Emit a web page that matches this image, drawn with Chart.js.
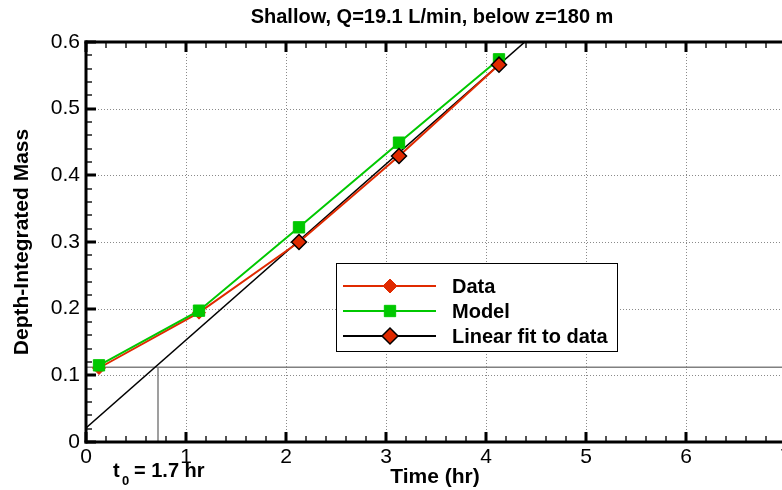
<!DOCTYPE html>
<html>
<head>
<meta charset="utf-8">
<script src="https://cdn.jsdelivr.net/npm/chart.js@4/dist/chart.umd.min.js"></script>
<style>
  html, body { margin: 0; padding: 0; background: #fff; overflow: hidden; }
  #wrap { width: 800px; height: 490px; }
</style>
</head>
<body>
<div id="wrap"><canvas id="massChart" width="800" height="490"></canvas></div>
<script>
// values
const times = [0.13, 1.13, 2.13, 3.13, 4.13];
const dataMass = [0.111, 0.194, 0.300, 0.429, 0.566];
const modelMass = [0.115, 0.197, 0.322, 0.449, 0.574];
const fitTimes = [0, 4.6];
const fitMass = [0.021, 0.628];
const fitPointTimes = [2.13, 3.13, 4.13];
const fitPointMass = [0.300, 0.429, 0.566];
const t0Level = 0.112;
const t0Time = 0.72;
const xTicks = [0, 1, 2, 3, 4, 5, 6, 7];
const yTicks = [0, 0.1, 0.2, 0.3, 0.4, 0.5, 0.6];

const RED = '#e02a00';
const GREEN = '#00c800';
const FONT = "'Liberation Sans', Arial, sans-serif";

const pts = (xs, ys) => xs.map((x, i) => ({ x: x, y: ys[i] }));

function seg(ctx, x1, y1, x2, y2) {
  ctx.beginPath();
  ctx.moveTo(x1, y1);
  ctx.lineTo(x2, y2);
  ctx.stroke();
}

// inward ticks (major + minor) and the frame, as filled rects
function drawFrame(chart) {
  const ctx = chart.ctx;
  const a = chart.chartArea;
  const xs = chart.scales.x, ys = chart.scales.y;
  const L = Math.round(a.left), T = Math.round(a.top), B = Math.round(a.bottom), R = Math.round(a.right) + 4;
  ctx.save();
  ctx.fillStyle = '#555';
  for (let i = 1; i < 35; i++) {
    if (i % 5 === 0) continue;
    const px = Math.round(xs.getPixelForValue(i / 5));
    ctx.fillRect(px - 1, B - 6, 2, 6);
    ctx.fillRect(px - 1, T, 2, 6);
  }
  for (let i = 1; i < 30; i++) {
    if (i % 5 === 0) continue;
    const py = Math.round(ys.getPixelForValue(i / 50));
    ctx.fillRect(L, py - 1, 6, 2);
  }
  ctx.fillStyle = '#000';
  xTicks.forEach(v => {
    const px = Math.round(xs.getPixelForValue(v));
    ctx.fillRect(px - 1.5, B - 10, 3, 10);
    ctx.fillRect(px - 1.5, T, 3, 10);
  });
  yTicks.forEach(v => {
    const py = Math.round(ys.getPixelForValue(v));
    ctx.fillRect(L, py - 1.5, 10, 3);
  });
  ctx.fillRect(L - 1.5, T - 1.5, R - L, 3);
  ctx.fillRect(L - 1.5, B - 1.5, R - L, 3);
  ctx.fillRect(L - 1.5, T - 1.5, 3, B - T + 3);
  ctx.restore();
}

const decor = {
  id: 'decor',
  beforeDatasetsDraw(chart) {
    // dotted grid at major ticks
    const ctx = chart.ctx, a = chart.chartArea;
    const xs = chart.scales.x, ys = chart.scales.y;
    ctx.save();
    ctx.strokeStyle = '#8a8a8a';
    ctx.lineWidth = 1;
    ctx.setLineDash([1, 2]);
    xTicks.forEach(v => {
      if (v <= xs.min || v >= xs.max) return;
      const px = Math.round(xs.getPixelForValue(v)) + 0.5;
      seg(ctx, px, a.top, px, a.bottom);
    });
    yTicks.forEach(v => {
      if (v <= ys.min || v >= ys.max) return;
      const py = Math.round(ys.getPixelForValue(v)) + 0.5;
      seg(ctx, a.left, py, a.right, py);
    });
    ctx.restore();
  },
  afterDraw(chart) {
    const ctx = chart.ctx;
    drawFrame(chart);
    ctx.save();
    ctx.fillStyle = '#000';
    ctx.textBaseline = 'alphabetic';

    // title
    ctx.font = 'bold 20px ' + FONT;
    ctx.textAlign = 'center';
    ctx.fillText('Shallow, Q=19.1 L/min, below z=180 m', 432, 23);

    // x title
    ctx.font = 'bold 21px ' + FONT;
    ctx.fillText('Time (hr)', 435, 483);

    // y title
    ctx.save();
    ctx.translate(28, 242);
    ctx.rotate(-Math.PI / 2);
    ctx.fillText('Depth-Integrated Mass', 0, 0);
    ctx.restore();

    // t0 annotation
    ctx.textAlign = 'left';
    ctx.font = 'bold 20px ' + FONT;
    ctx.fillText('t', 113, 477);
    ctx.font = 'bold 13px ' + FONT;
    ctx.fillText('0', 122, 485);
    ctx.font = 'bold 20px ' + FONT;
    ctx.fillText('= 1.7 hr', 134, 477);

    // legend
    const lx = 336, ly = 263, lw = 281, lh = 88;
    ctx.fillStyle = '#fff';
    ctx.fillRect(lx, ly, lw, lh);
    ctx.strokeStyle = '#000';
    ctx.lineWidth = 1;
    ctx.strokeRect(lx + 0.5, ly + 0.5, lw, lh);
    const ds = chart.data.datasets;
    [ds[0], ds[1], ds[2]].forEach((d, i) => {
      const cy = 286 + i * 25;
      ctx.strokeStyle = d.legendLine;
      ctx.lineWidth = 2;
      seg(ctx, 343, cy, 436, cy);
      ctx.fillStyle = d.pointBackgroundColor;
      ctx.strokeStyle = d.pointBorderColor;
      ctx.lineWidth = d.pointBorderWidth;
      Chart.helpers.drawPoint(ctx, {
        pointStyle: d.pointStyle,
        radius: d.legendRadius,
        borderWidth: d.pointBorderWidth
      }, 390, cy);
      ctx.fillStyle = '#000';
      ctx.font = 'bold 20px ' + FONT;
      ctx.textBaseline = 'middle';
      ctx.fillText(d.label, 452, cy + 1);
    });
    ctx.restore();
  }
};

new Chart(document.getElementById('massChart'), {
  type: 'scatter',
  data: {
    datasets: [
      {
        label: 'Data',
        data: pts(times, dataMass),
        showLine: true,
        borderColor: RED,
        borderWidth: 2,
        pointStyle: 'rectRot',
        pointRadius: 6.5,
        pointBackgroundColor: RED,
        pointBorderColor: RED,
        pointBorderWidth: 1,
        legendLine: RED,
        legendRadius: 7,
        order: 2
      },
      {
        label: 'Model',
        data: pts(times, modelMass),
        showLine: true,
        borderColor: GREEN,
        borderWidth: 2,
        pointStyle: 'rect',
        pointRadius: 8,
        pointBackgroundColor: GREEN,
        pointBorderColor: GREEN,
        pointBorderWidth: 1,
        legendLine: GREEN,
        legendRadius: 8,
        order: 1
      },
      {
        label: 'Linear fit to data',
        data: pts(fitPointTimes, fitPointMass),
        showLine: false,
        pointStyle: 'rectRot',
        pointRadius: 7.5,
        pointBackgroundColor: RED,
        pointBorderColor: '#000',
        pointBorderWidth: 1.5,
        legendLine: '#000',
        legendRadius: 8,
        order: 0
      },
      {
        label: 'fit line',
        data: pts(fitTimes, fitMass),
        showLine: true,
        borderColor: '#000',
        borderWidth: 1.5,
        pointRadius: 0,
        order: 3
      },
      {
        label: 't0 level',
        data: pts([0, 7], [t0Level, t0Level]),
        showLine: true,
        borderColor: '#808080',
        borderWidth: 1.5,
        pointRadius: 0,
        order: 4
      },
      {
        label: 't0 time',
        data: pts([t0Time, t0Time], [t0Level, 0]),
        showLine: true,
        borderColor: '#808080',
        borderWidth: 1.5,
        pointRadius: 0,
        order: 4
      }
    ]
  },
  options: {
    responsive: false,
    animation: false,
    layout: { padding: { top: 42, right: 14, left: 0, bottom: 0 } },
    plugins: {
      legend: { display: false },
      title: { display: false },
      tooltip: { enabled: false }
    },
    scales: {
      x: {
        type: 'linear',
        min: 0,
        max: 7,
        afterBuildTicks: s => { s.ticks = xTicks.map(v => ({ value: v })); },
        afterFit: s => { s.height = 48; },
        grid: { display: false, drawTicks: false },
        border: { display: false },
        ticks: { color: '#000', padding: 3, font: { family: FONT, size: 21 } }
      },
      y: {
        min: 0,
        max: 0.6,
        afterBuildTicks: s => { s.ticks = yTicks.map(v => ({ value: v })); },
        afterFit: s => { s.width = 86; },
        grid: { display: false, drawTicks: false },
        border: { display: false },
        ticks: { color: '#000', padding: 6, font: { family: FONT, size: 21 } }
      }
    }
  },
  plugins: [decor]
});
</script>
</body>
</html>
